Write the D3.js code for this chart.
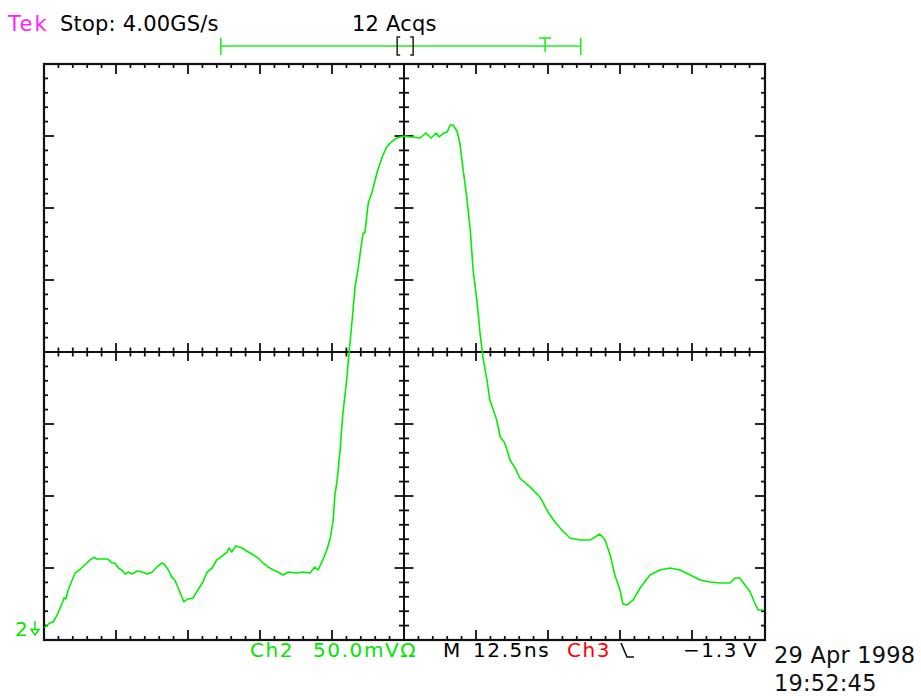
<!DOCTYPE html>
<html>
<head>
<meta charset="utf-8">
<script src="https://cdn.jsdelivr.net/npm/d3@7/dist/d3.min.js"></script>
<style>
  html, body { margin: 0; padding: 0; background: #fff; }
  svg { display: block; }
  text { font-family: "DejaVu Sans", sans-serif; }
</style>
</head>
<body>
<svg id="scope" width="921" height="696"></svg>
<script>
// Channel 2 acquisition: time (ns from left of screen) and level (mV relative to screen centre)
const timeNs = [0, 0.2, 1.0, 1.6, 2.3, 2.8, 3.5, 3.8, 4.2, 4.9, 5.4, 6.3, 7.1, 8.0, 8.7, 9.2,
  11.1, 11.8, 12.3, 12.9, 13.5, 14.1, 14.6, 15.3, 16.1, 17.0, 17.9, 18.8, 19.6, 20.5, 20.8,
  21.5, 22.2, 22.7, 23.3, 24.0, 24.3, 25.0, 25.9, 26.7, 27.6, 28.3, 29.2, 30.0, 30.9, 31.8,
  32.1, 32.6, 33.3, 34.4, 35.2, 36.1, 37.2, 38.0, 38.9, 39.8, 40.6, 41.5, 42.4, 43.9, 45.0,
  46.2, 47.0, 47.6, 48.4, 49.1, 49.7, 50.2, 50.5, 50.9, 51.4, 51.9, 52.6, 53.0, 53.5, 54.0,
  54.5, 54.9, 55.4, 55.7, 56.3, 56.9, 57.8, 58.7, 59.5, 60.1, 60.9, 61.8, 62.7, 63.5, 64.1,
  65.3, 66.3, 67.2, 68.1, 68.6, 69.4, 70.0, 70.5, 71.0, 71.7, 72.2, 72.7, 73.4, 74.0, 74.5,
  75.2, 75.7, 76.2, 76.9, 77.4, 78.0, 78.6, 79.2, 79.9, 80.4, 80.9, 81.8, 82.6, 84.4, 86.1,
  87.5, 88.7, 89.9, 91.3, 93.1, 94.8, 96.5, 97.4, 98.3, 99.1, 100.0, 100.5, 101.2, 102.3,
  103.5, 105.2, 106.9, 108.7, 110.4, 112.2, 113.9, 115.6, 117.4, 119.1, 120.0, 120.8, 121.7,
  122.6, 123.4, 124.0, 125.0];
const ch2mV = [-191.0, -191.0, -188.2, -187.5, -182.6, -177.8, -170.8, -171.5, -165.3, -158.3,
  -153.5, -150.7, -147.9, -144.4, -142.4, -143.8, -143.8, -146.5, -146.5, -150.0, -151.4,
  -154.2, -152.8, -154.2, -152.1, -152.8, -154.2, -152.8, -149.3, -146.5, -147.2, -150.7,
  -156.3, -158.3, -163.9, -170.8, -173.6, -171.5, -170.8, -165.3, -159.7, -152.8, -150.0,
  -144.4, -141.7, -138.9, -136.1, -138.9, -134.7, -136.1, -138.2, -140.3, -143.1, -146.5,
  -149.3, -151.4, -152.8, -154.9, -152.8, -153.5, -152.8, -153.5, -149.3, -151.4, -144.4,
  -137.5, -129.2, -116.7, -99.3, -88.9, -68.1, -42.4, -17.4, 1.4, 22.2, 45.1, 56.9, 68.8,
  82.6, 82.6, 103.5, 110.4, 124.3, 135.4, 142.4, 145.1, 147.9, 149.3, 150.0, 149.3, 149.3,
  148.6, 152.1, 148.6, 152.1, 149.3, 152.1, 152.8, 157.6, 157.6, 153.5, 145.1, 128.5, 107.6,
  84.7, 56.9, 34.0, 13.2, -3.5, -19.4, -33.3, -40.3, -47.2, -59.0, -62.5, -68.1, -75.0,
  -80.6, -87.5, -93.8, -100.7, -111.1, -118.1, -123.6, -129.2, -130.6, -130.6, -126.4,
  -130.6, -141.0, -154.9, -165.3, -175.0, -175.7, -172.2, -163.9, -154.9, -151.4, -150.0,
  -151.4, -154.9, -158.3, -159.7, -160.4, -160.4, -156.9, -156.9, -161.8, -166.7, -174.3,
  -179.2, -179.2];

// Graticule settings: 10 x 8 divisions, 5 minor steps per division
const nsPerDiv = 12.5;
const mVPerDiv = 50;
const timeDomain = [0, 125];
const levelDomain = [-200, 200];

// Record-length bar: left end, right end, trigger point, displayed window (screen ns)
const recordBar = [30.7, 93.2];
const recordTrigger = 87.0;
const recordWindow = 62.7;

const headerLabels = [
  { text: "Tek", x: 8, color: "#ff22ff", spacing: 2.2 },
  { text: "Stop: 4.00GS/s", x: 60, color: "#000", spacing: 0.2 },
  { text: "12 Acqs", x: 352, color: "#000", spacing: 0.2 }
];
const footerLabels = [
  { text: "Ch2", x: 250, color: "#00e600" },
  { text: "50.0mVΩ", x: 313, color: "#00e600" },
  { text: "M", x: 443, color: "#000" },
  { text: "12.5ns", x: 473, color: "#000" },
  { text: "Ch3", x: 567, color: "#ff0000" },
  { text: "−1.3", x: 683, color: "#000" },
  { text: "V", x: 743, color: "#000" }
];
const dateLines = ["29 Apr 1998", "19:52:45"];

const svg = d3.select("#scope");
const x = d3.scaleLinear().domain(timeDomain).range([44, 764]);
const y = d3.scaleLinear().domain(levelDomain).range([640, 64]);

const ink = "#111";
const g = svg.append("g");

// minor / major tick positions
const tMinor = d3.range(timeDomain[0], timeDomain[1] + 0.001, nsPerDiv / 5);
const vMinor = d3.range(levelDomain[0], levelDomain[1] + 0.001, mVPerDiv / 5);
const isMajorT = t => Math.abs(t / nsPerDiv - Math.round(t / nsPerDiv)) < 1e-6;
const isMajorV = v => Math.abs(v / mVPerDiv - Math.round(v / mVPerDiv)) < 1e-6;

// frame
g.append("rect")
  .attr("x", x(timeDomain[0])).attr("y", y(levelDomain[1]))
  .attr("width", x(timeDomain[1]) - x(timeDomain[0]) + 1)
  .attr("height", y(levelDomain[0]) - y(levelDomain[1]))
  .attr("fill", "none").attr("stroke", ink).attr("stroke-width", 2.2);

// centre crosshair
g.append("line").attr("x1", x(62.5)).attr("x2", x(62.5))
  .attr("y1", y(levelDomain[1])).attr("y2", y(levelDomain[0]))
  .attr("stroke", ink).attr("stroke-width", 2);
g.append("line").attr("y1", y(0)).attr("y2", y(0))
  .attr("x1", x(timeDomain[0])).attr("x2", x(timeDomain[1]))
  .attr("stroke", ink).attr("stroke-width", 2);

const tickG = g.append("g").attr("stroke", ink).attr("stroke-width", 1.8);
const inner = tMinor.filter(t => t > timeDomain[0] && t < timeDomain[1]);
const innerV = vMinor.filter(v => v > levelDomain[0] && v < levelDomain[1]);

// top and bottom edge ticks (inward)
tickG.selectAll(".tt").data(inner).join("line")
  .attr("x1", d => x(d)).attr("x2", d => x(d))
  .attr("y1", y(levelDomain[1])).attr("y2", d => y(levelDomain[1]) + (isMajorT(d) ? 10 : 4));
tickG.selectAll(".tb").data(inner).join("line")
  .attr("x1", d => x(d)).attr("x2", d => x(d))
  .attr("y1", y(levelDomain[0])).attr("y2", d => y(levelDomain[0]) - (isMajorT(d) ? 10 : 4));
// left and right edge ticks (inward)
tickG.selectAll(".tl").data(innerV).join("line")
  .attr("y1", d => y(d)).attr("y2", d => y(d))
  .attr("x1", x(timeDomain[0])).attr("x2", d => x(timeDomain[0]) + (isMajorV(d) ? 10 : 4));
tickG.selectAll(".tr").data(innerV).join("line")
  .attr("y1", d => y(d)).attr("y2", d => y(d))
  .attr("x1", x(timeDomain[1]) + 1).attr("x2", d => x(timeDomain[1]) + 1 - (isMajorV(d) ? 10 : 4));
// centre-line ticks (both sides)
tickG.selectAll(".th").data(inner.filter(t => t !== 62.5)).join("line")
  .attr("x1", d => x(d)).attr("x2", d => x(d))
  .attr("y1", d => y(0) - (isMajorT(d) ? 9 : 4.5)).attr("y2", d => y(0) + (isMajorT(d) ? 9 : 4.5));
tickG.selectAll(".tv").data(innerV.filter(v => v !== 0)).join("line")
  .attr("y1", d => y(d)).attr("y2", d => y(d))
  .attr("x1", d => x(62.5) - (isMajorV(d) ? 9.5 : 5)).attr("x2", d => x(62.5) + (isMajorV(d) ? 9.5 : 5));

// waveform
const pts = timeNs.map((t, i) => [t, ch2mV[i]]);
svg.append("path")
  .datum(pts)
  .attr("fill", "none")
  .attr("stroke", "#00f000")
  .attr("stroke-width", 1.6)
  .attr("stroke-linejoin", "round")
  .attr("d", d3.line().x(d => x(d[0])).y(d => y(d[1])));

// record-length indicator above the graticule
const barG = svg.append("g").attr("stroke", "#22ee22").attr("stroke-width", 1.6).attr("fill", "none");
const bx0 = x(recordBar[0]), bx1 = x(recordBar[1]), by = 46;
barG.append("line").attr("x1", bx0).attr("x2", bx1).attr("y1", by).attr("y2", by);
barG.append("line").attr("x1", bx0).attr("x2", bx0).attr("y1", 38).attr("y2", 55);
barG.append("line").attr("x1", bx1).attr("x2", bx1).attr("y1", 38).attr("y2", 55);
const tx = x(recordTrigger);
barG.append("line").attr("x1", tx - 6).attr("x2", tx + 6).attr("y1", 38).attr("y2", 38);
barG.append("line").attr("x1", tx).attr("x2", tx).attr("y1", 38).attr("y2", 52);
const wx = x(recordWindow);
svg.append("path")
  .attr("d", `M${wx - 5},37 H${wx - 8} V55 H${wx - 5} M${wx + 5},37 H${wx + 8} V55 H${wx + 5}`)
  .attr("fill", "none").attr("stroke", "#222").attr("stroke-width", 1.5);

// header text
svg.selectAll(".hdr").data(headerLabels).join("text")
  .attr("x", d => d.x).attr("y", 31)
  .attr("fill", d => d.color)
  .style("font-size", "21px").style("letter-spacing", d => d.spacing + "px")
  .text(d => d.text);

// footer text
svg.selectAll(".ftr").data(footerLabels).join("text")
  .attr("x", d => d.x).attr("y", 657)
  .attr("fill", d => d.color)
  .style("font-size", "20px").style("letter-spacing", "1.6px")
  .text(d => d.text);

// trigger slope symbol (falling edge)
svg.append("path").attr("d", "M621,643 L627,657 L634,657")
  .attr("fill", "none").attr("stroke", "#111").attr("stroke-width", 1.6);

// date / time stamp
svg.selectAll(".dt").data(dateLines).join("text")
  .attr("x", 774).attr("y", (d, i) => 663 + i * 28)
  .attr("fill", "#111")
  .style("font-size", "22.5px").style("letter-spacing", "0.2px")
  .text(d => d);

// channel 2 reference marker (ground below screen)
svg.append("text").attr("x", 15).attr("y", 636)
  .attr("fill", "#00e600").style("font-size", "20px").text("2");
svg.append("path").attr("d", "M35,621 V630 M31,629.5 H39 L35,635 Z")
  .attr("fill", "none").attr("stroke", "#00e600").attr("stroke-width", 1.4);
</script>
</body>
</html>
